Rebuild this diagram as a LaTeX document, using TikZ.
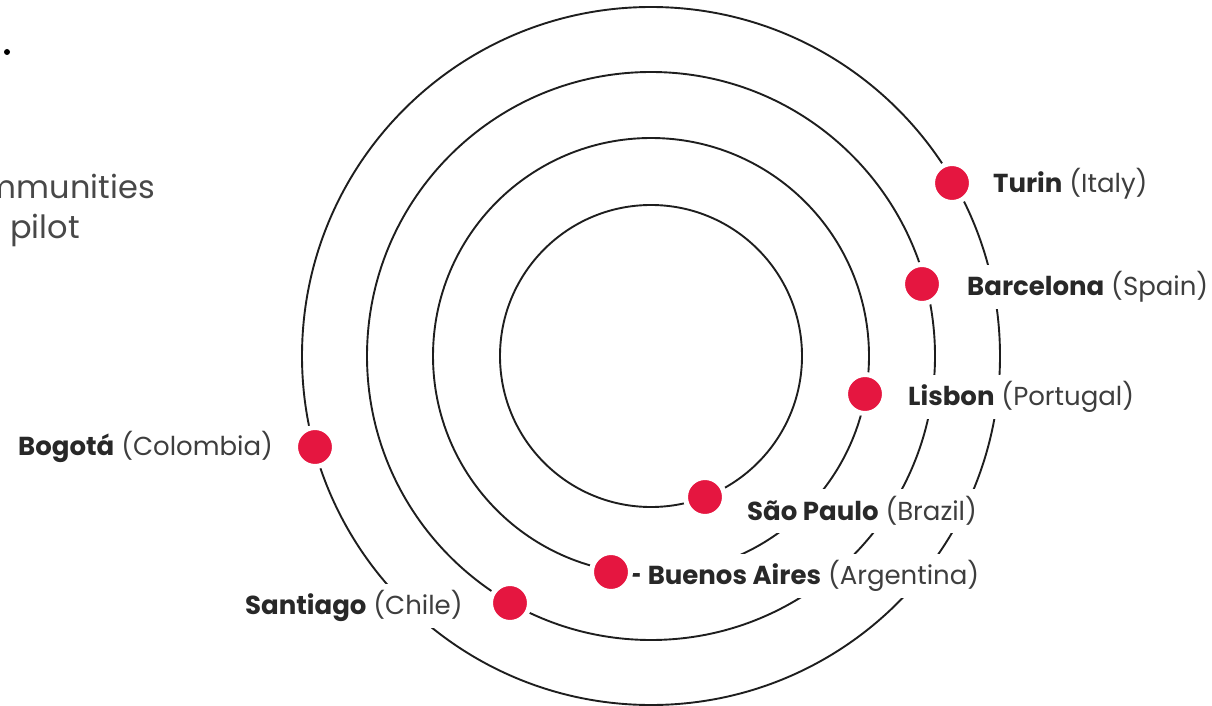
\documentclass[tikz,border=0pt]{standalone}
\usepackage{fontspec}
\setmainfont{Poppins}
\definecolor{dotred}{RGB}{229,22,64}
\definecolor{ringcol}{RGB}{30,30,30}
\definecolor{namecol}{RGB}{40,40,40}
\definecolor{parcol}{RGB}{62,62,62}
\definecolor{slidecol}{RGB}{72,72,72}
\begin{document}
\begin{tikzpicture}[x=1pt,y=-1pt,
  ring/.style={circle, draw=ringcol, line width=1.9pt, inner sep=0pt},
  reddot/.style={circle, fill=dotred, draw=white, line width=5pt, minimum size=39pt, inner sep=0pt},
  lab/.style={anchor=west, fill=white, inner xsep=2pt, inner ysep=0pt, minimum height=44pt,
    font=\fontsize{26}{30}\selectfont, text=namecol},
  slide/.style={font=\fontsize{32}{37}\selectfont, text=slidecol, inner sep=0pt}
]
\useasboundingbox (0,0) rectangle (1212,706);
\coordinate (c) at (651,356);
% rings
\node[ring, minimum size=302pt] (r1) at (c) {};
\node[ring, minimum size=436pt] (r2) at (c) {};
\node[ring, minimum size=568pt] (r3) at (c) {};
\node[ring, minimum size=698pt] (r4) at (c) {};
% labels
\node[lab] (turinlab) at (991,184) {\textbf{Turin} {\color{parcol}(Italy)}};
\node[lab] (barlab) at (965,287) {\textbf{Barcelona} {\color{parcol}(Spain)}};
\node[lab] (lislab) at (906,397) {\textbf{Lisbon} {\color{parcol}(Portugal)}};
\node[lab] (saolab) at (745,511) {\textbf{São Paulo} {\color{parcol}(Brazil)}};
\node[lab] (buelab) at (625,576) {\textbf{- Buenos Aires} {\color{parcol}(Argentina)}};
\node[lab] (santlab) at (243,606) {\textbf{Santiago} {\color{parcol}(Chile)}};
\node[lab] (boglab) at (16,447) {\textbf{Bogotá} {\color{parcol}(Colombia)}};
% dots
\node[reddot] (turin) at (952,183) {};
\node[reddot] (barcelona) at (922,284) {};
\node[reddot] (lisbon) at (865,394) {};
\node[reddot] (saopaulo) at (705,497) {};
\node[reddot] (buenos) at (611,572) {};
\node[reddot] (santiago) at (510,603) {};
\node[reddot] (bogota) at (315,447) {};
% slide remnants
\begin{scope}
\clip (0,0) rectangle (1212,706);
\node[circle, fill=black, minimum size=6pt, inner sep=0pt] (bullet) at (7,52) {};
\node[slide, anchor=base east] (comm) at (155,198) {communities};
\node[slide, anchor=base west] (pilot) at (10,238) {pilot};
\end{scope}
\end{tikzpicture}
\end{document}
